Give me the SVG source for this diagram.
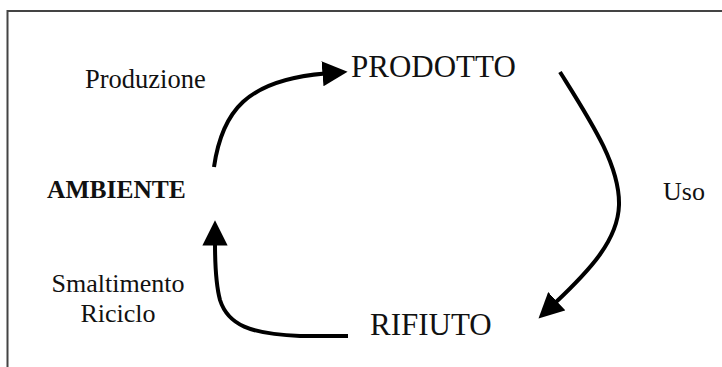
<svg xmlns="http://www.w3.org/2000/svg" width="722" height="367" viewBox="0 0 722 367">
  <style>
    .lbl { font-family: "Liberation Serif", "Times New Roman", serif; fill: #111; }
    .flow { fill: none; stroke: #000; stroke-width: 4; stroke-linecap: butt; }
    .frame { fill: none; stroke: #444; stroke-width: 2; }
  </style>
  <defs>
    <marker id="head" viewBox="0 0 10 10" refX="1" refY="5" markerWidth="6.3" markerHeight="6.3" markerUnits="strokeWidth" orient="auto">
      <path d="M0,0 L10,5 L0,10 Z" fill="#000"/>
    </marker>
  </defs>
  <rect width="722" height="367" fill="#fff"/>
  <path class="frame" d="M7.5,367 V11 H722"/>

  <g id="connectors">
    <!-- Produzione: AMBIENTE -> PRODOTTO -->
    <path class="flow" marker-end="url(#head)" d="M214,167 C222,112 246,80 325,73.5"/>
    <!-- Uso: PRODOTTO -> RIFIUTO -->
    <path class="flow" marker-end="url(#head)" d="M560,72 C590,120 620,165 619,205 C618,240 590,270 555,303"/>
    <!-- Smaltimento / Riciclo: RIFIUTO -> AMBIENTE -->
    <path class="flow" marker-end="url(#head)" d="M348,336 L300,336 C250,334 228,325 220,300 C216,285 215,262 215,243"/>
  </g>

  <g id="prodotto"><text class="lbl" x="351" y="77" font-size="31">PRODOTTO</text></g>
  <g id="rifiuto"><text class="lbl" x="370" y="335" font-size="31">RIFIUTO</text></g>
  <g id="ambiente"><text class="lbl" x="47" y="198" font-size="25.5" font-weight="bold">AMBIENTE</text></g>
  <g id="produzione"><text class="lbl" x="85" y="88" font-size="26.5">Produzione</text></g>
  <g id="uso"><text class="lbl" x="663" y="200" font-size="26">Uso</text></g>
  <g id="smaltimento">
    <text class="lbl" x="118" y="292" font-size="26" text-anchor="middle">Smaltimento</text>
    <text class="lbl" x="118" y="322" font-size="26" text-anchor="middle">Riciclo</text>
  </g>
</svg>
